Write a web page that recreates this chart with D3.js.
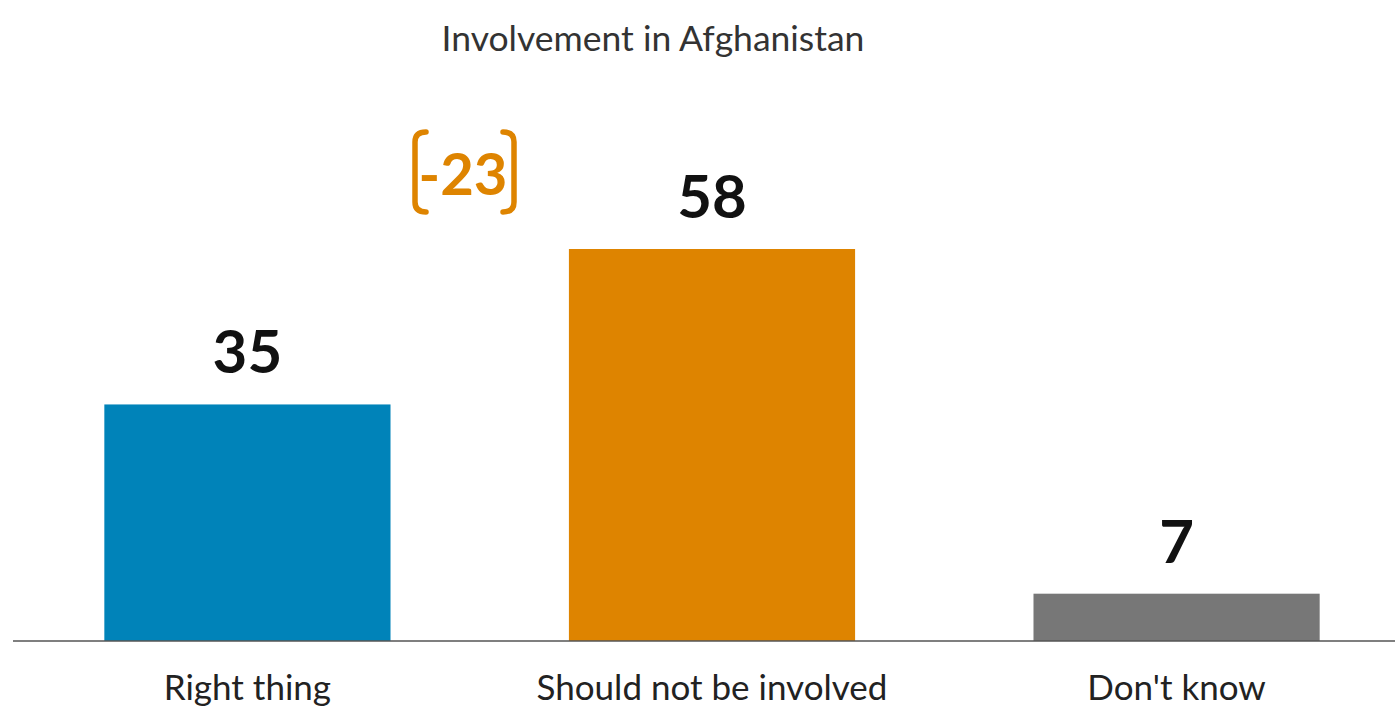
<!DOCTYPE html>
<html>
<head>
<meta charset="utf-8">
<script src="https://cdn.jsdelivr.net/npm/d3@7"></script>
<style>
  html, body { margin: 0; padding: 0; background: #fff; }
  svg { display: block; }
</style>
</head>
<body>
<div id="chart"></div>
<script>
// Data
const categories = ["Right thing", "Should not be involved", "Don't know"];
const values = [35, 58, 7];
const colors = ["#0083b9", "#de8400", "#777777"];
const changeLabel = "-23";

const W = 1395, H = 709;
const baseY = 641;
const font = "Lato, 'Open Sans', sans-serif";

const svg = d3.select("#chart").append("svg")
    .attr("width", W)
    .attr("height", H);

// Scales
const x = d3.scaleBand()
    .domain(categories)
    .range([30, 1394])
    .paddingInner(0.384)
    .paddingOuter(0.16);

const y = d3.scaleLinear()
    .domain([0, 58])
    .range([baseY, 249]);

// Title
svg.append("text")
    .attr("x", 653)
    .attr("y", 51)
    .attr("text-anchor", "middle")
    .attr("font-family", font)
    .attr("font-size", "35.5px")
    .attr("fill", "#333")
    .text("Involvement in Afghanistan");

// Bars
svg.selectAll("rect.bar")
    .data(values)
    .enter().append("rect")
    .attr("class", "bar")
    .attr("x", (d, i) => x(categories[i]))
    .attr("y", d => y(d))
    .attr("width", x.bandwidth())
    .attr("height", d => baseY - y(d))
    .attr("fill", (d, i) => colors[i]);

// Baseline
svg.append("line")
    .attr("x1", 13).attr("x2", W)
    .attr("y1", baseY).attr("y2", baseY)
    .attr("stroke", "#555")
    .attr("stroke-width", 1.5);

// Value labels
svg.selectAll("text.val")
    .data(values)
    .enter().append("text")
    .attr("class", "val")
    .attr("x", (d, i) => x(categories[i]) + x.bandwidth() / 2)
    .attr("y", d => y(d) - 31)
    .attr("text-anchor", "middle")
    .attr("font-family", font)
    .attr("font-weight", "bold")
    .attr("font-size", "60px")
    .attr("fill", "#111")
    .text(d => d);

// Category labels (kept just inside the bottom edge)
svg.selectAll("text.cat")
    .data(categories)
    .enter().append("text")
    .attr("class", "cat")
    .attr("x", d => x(d) + x.bandwidth() / 2)
    .attr("y", 700)
    .attr("text-anchor", "middle")
    .attr("font-family", font)
    .attr("font-size", "35px")
    .attr("fill", "#222")
    .text(d => d);

// Change annotation with brackets
const ann = svg.append("g").attr("class", "annotation");
const orange = colors[1];
ann.append("text")
    .attr("x", 463)
    .attr("y", 195)
    .attr("text-anchor", "middle")
    .attr("font-family", font)
    .attr("font-weight", "bold")
    .attr("font-size", "58px")
    .attr("fill", orange)
    .text(changeLabel);

const bTop = 132, bBot = 212, r = 10;
ann.append("path")
    .attr("d", `M426,${bTop} Q415,${bTop} 415,${bTop + r} L415,${bBot - r} Q415,${bBot} 426,${bBot}`)
    .attr("fill", "none")
    .attr("stroke", orange)
    .attr("stroke-width", 5.5)
    .attr("stroke-linecap", "round");
ann.append("path")
    .attr("d", `M503,${bTop} Q514,${bTop} 514,${bTop + r} L514,${bBot - r} Q514,${bBot} 503,${bBot}`)
    .attr("fill", "none")
    .attr("stroke", orange)
    .attr("stroke-width", 5.5)
    .attr("stroke-linecap", "round");
</script>
</body>
</html>
